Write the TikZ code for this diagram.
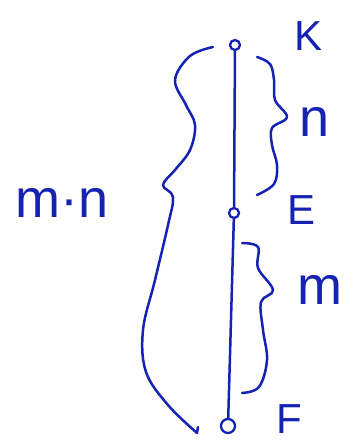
\documentclass[tikz,border=0pt]{standalone}
\usepackage{fontspec}
\setmainfont{Liberation Sans}
\definecolor{inkblue}{RGB}{22,34,178}
\begin{document}
\begin{tikzpicture}[x=1pt,y=-1pt,
  ink/.style={draw=inkblue, line width=2.5pt, line cap=round, line join=round},
  dot/.style={circle, draw=inkblue, line width=2.3pt, minimum size=10pt, inner sep=0pt},
  lbl/.style={text=inkblue, font=\fontsize{42}{42}\selectfont, inner sep=0pt},
  lowlbl/.style={text=inkblue, font=\fontsize{54}{54}\selectfont, inner sep=0pt}]
\useasboundingbox (0,0) rectangle (350,447);
% points on the line
\node[dot] (K) at (235,45) {};
\node[dot] (E) at (234,213) {};
\node[dot, minimum height=14pt] (F) at (228,426) {};
\draw[ink] (K) -- (E);
\draw[ink] (E) -- (F);
% labels
\node[lbl] (Kl) at (309,36) {K};
\node[lbl] (El) at (302,210) {E};
\node[lbl, anchor=base] (Fl) at (289,433) {F};
\node[lowlbl] (nl) at (315,122) {n};
\node[lowlbl] (ml) at (320,290) {m};
\node[lowlbl] (mnl) at (62,203) {m·n};
% brace n
\draw[ink] plot[smooth, tension=0.6] coordinates {(257,57) (270,64) (274,80) (275,100) (287,117) (272,128) (272,145) (277,165) (274,184) (257,195)};
% brace m
\draw[ink] plot[smooth, tension=0.6] coordinates {(242,243) (258,247) (258,268) (273,290) (261,302) (263,330) (267,360) (259,387) (242,393)};
% big brace K to F
\draw[ink] plot[smooth, tension=0.6] coordinates {(213,47) (190,56) (175,80) (186,105) (195,125) (190,150) (175,170) (163,185) (173,197) (168,225) (155,280) (143,330) (146,372) (168,405) (197,433)};
\draw[ink] (198,427) -- (197,433);
\end{tikzpicture}
\end{document}
